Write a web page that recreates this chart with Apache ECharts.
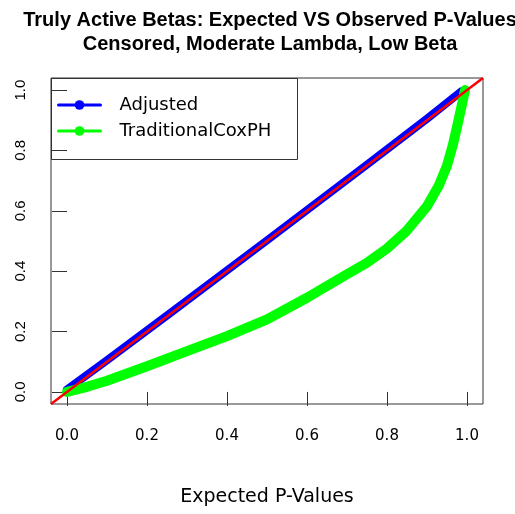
<!DOCTYPE html>
<html>
<head>
<meta charset="utf-8">
<script src="https://cdn.jsdelivr.net/npm/echarts@6/dist/echarts.min.js"></script>
<style>html,body{margin:0;padding:0;background:#fff}#c{width:515px;height:514px}</style>
</head>
<body>
<div id="c"></div>
<script>
// ---- data ----
var titleLines = ['Truly Active Betas: Expected VS Observed P-Values', 'Censored, Moderate Lambda, Low Beta'];
var xAxisTitle = 'Expected P-Values';
var tickValues = [0, 0.2, 0.4, 0.6, 0.8, 1.0];
var axisMin = -0.04, axisMax = 1.04;
var seriesNames = ['Adjusted', 'TraditionalCoxPH'];
var adjustedX = [0.0, 0.1, 0.25, 0.5, 0.75, 0.9, 0.985];
var adjustedY = [0.008, 0.105, 0.253, 0.502, 0.753, 0.905, 0.995];
var coxX = [0.0, 0.05, 0.1, 0.2, 0.3, 0.4, 0.5, 0.6, 0.7, 0.75, 0.8, 0.85, 0.9, 0.93, 0.95, 0.965, 0.977, 0.987, 0.995];
var coxY = [0.0, 0.017, 0.037, 0.085, 0.135, 0.185, 0.24, 0.312, 0.39, 0.428, 0.475, 0.535, 0.615, 0.685, 0.75, 0.82, 0.89, 0.95, 1.0];
var refLineX = [-0.04, 1.04];
var refLineY = [-0.04, 1.04];

function pairs(xs, ys) { return xs.map(function (x, i) { return [x, ys[i]]; }); }

var chart = echarts.init(document.getElementById('c'), null, { renderer: 'canvas' });
var axisCommon = {
  type: 'value', min: axisMin, max: axisMax,
  splitLine: { show: false },
  axisLine: { show: false },
  axisTick: { show: true, inside: false, length: 14, customValues: tickValues, lineStyle: { color: '#333', width: 1 } },
};
chart.setOption({
  animation: false,
  backgroundColor: '#fff',
  title: {
    text: titleLines.join('\n'),
    left: 265, top: 3, textAlign: 'center',
    textStyle: { fontFamily: 'Liberation Sans', fontWeight: 'bold', fontSize: 20, lineHeight: 24, color: '#000' }
  },
  grid: { left: 51, top: 78, right: 32, bottom: 110, show: true, borderColor: '#333', borderWidth: 1, backgroundColor: 'transparent' },
  xAxis: Object.assign({}, axisCommon, {
    name: xAxisTitle, nameLocation: 'middle', nameGap: 84,
    nameTextStyle: { fontFamily: 'DejaVu Sans', fontSize: 19, color: '#000' },
    axisLabel: { customValues: tickValues, margin: 25, fontFamily: 'DejaVu Sans', fontSize: 15, color: '#000',
      formatter: function (v) { return v.toFixed(1); } }
  }),
  yAxis: Object.assign({}, axisCommon, {
    axisTick: Object.assign({}, axisCommon.axisTick, { length: 15 }),
    axisLabel: { customValues: tickValues, rotate: 90, margin: 23, fontFamily: 'Liberation Sans', fontSize: 15, color: '#000',
      formatter: function (v) { return v.toFixed(1); } }
  }),
  legend: {
    orient: 'vertical', left: 57, top: 95, padding: 0,
    itemWidth: 42, itemHeight: 12, itemGap: 6,
    data: seriesNames,
    lineStyle: { width: 3 },
    textStyle: { fontFamily: 'DejaVu Sans', fontSize: 18, lineHeight: 20, color: '#000', padding: [0, 0, 0, 14] }
  },
  graphic: [{
    type: 'rect', left: 51, top: 78, z: 100,
    shape: { width: 246, height: 81 },
    style: { fill: 'rgba(0,0,0,0)', stroke: '#333', lineWidth: 1 }
  }],
  series: [
    { name: seriesNames[0], type: 'line', data: pairs(adjustedX, adjustedY), showSymbol: false, symbol: 'circle', symbolSize: 10,
      itemStyle: { color: '#0000FF' }, lineStyle: { color: '#0000FF', width: 8, cap: 'round', join: 'round' }, z: 2 },
    { name: seriesNames[1], type: 'line', data: pairs(coxX, coxY), smooth: false, showSymbol: false, symbol: 'circle', symbolSize: 10,
      itemStyle: { color: '#00FF00' }, lineStyle: { color: '#00FF00', width: 10, cap: 'round', join: 'round' }, z: 3 },
    { name: 'ref', type: 'line', data: pairs(refLineX, refLineY), showSymbol: false, symbol: 'none',
      lineStyle: { color: '#FF0000', width: 2.5 }, z: 4, legendHoverLink: false }
  ]
});
</script>
</body>
</html>
